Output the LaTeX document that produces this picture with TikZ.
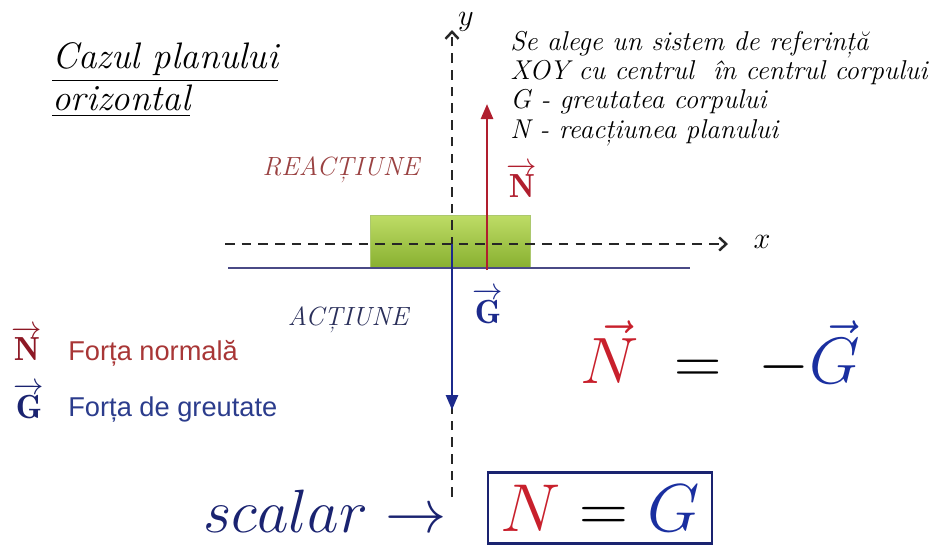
\documentclass[tikz,border=0pt]{standalone}
\usepackage{fontspec}
\usepackage{amsmath}
\usetikzlibrary{arrows.meta,positioning,calc}
\newfontfamily\legendfont{Liberation Sans}
\definecolor{ForceRed}{HTML}{B01E2E}
\definecolor{ForceBlue}{HTML}{1C2A8C}
\definecolor{EqRed}{HTML}{C8202C}
\definecolor{EqBlue}{HTML}{1A2FA0}
\definecolor{Navy}{HTML}{1A2370}
\definecolor{ReactText}{HTML}{9A4242}
\definecolor{ActText}{HTML}{2A2F5A}
\definecolor{Ground}{HTML}{4A4A86}
\definecolor{GreenTop}{HTML}{BEDC66}
\definecolor{GreenBot}{HTML}{88B030}
\definecolor{LegRed}{HTML}{A83636}
\definecolor{LegBlue}{HTML}{2B3C8C}
\tikzset{
  axis/.style={line width=1.4pt, dash pattern=on 5.5pt off 4pt, draw=black!85, -{Straight Barb[length=1.4mm,width=2.6mm]}},
  force/.style={line width=1.5pt, -{Triangle[length=3mm,width=2.4mm]}},
  block/.style={draw=GreenBot!70, top color=GreenTop, bottom color=GreenBot, minimum width=3.2cm, minimum height=1.06cm, inner sep=0pt},
  note/.style={font=\fontsize{15.5}{16.6}\selectfont\itshape, align=left, inner sep=0pt},
  tag/.style={font=\fontsize{15}{17}\selectfont\itshape, inner sep=0pt},
  vlabel/.style={font=\fontsize{19}{22}\selectfont, inner sep=0pt},
  legend/.style={font=\fontsize{15.5}{17}\selectfont\legendfont, anchor=west, inner sep=0pt},
  bigmath/.style={font=\fontsize{24.88}{30}\selectfont, inner sep=0pt}
}
\begin{document}
\begin{tikzpicture}[x=0.02cm,y=-0.02cm]
\useasboundingbox (0,0) rectangle (935,545);
% title
\node[anchor=north west, align=left, inner sep=0pt, font=\fontsize{21}{20}\selectfont\itshape] (title) at (52,42)
  {\underline{Cazul planului}\\\underline{orizontal}};
% reference system text
\node[note, anchor=north west] (info) at (510,31)
  {Se alege un sistem de referință\\XOY cu centrul \ în centrul corpului\\G - greutatea corpului\\N - reacțiunea planului};
% body and plane
\node[block] (body) at (450,241.5) {};
\coordinate (g1) at (228,268);
\coordinate (g2) at (690,268);
\draw[Ground, line width=1.5pt] (g1) -- (g2);
% axes
\coordinate (O) at (452,244);
\coordinate (xbase) at (225,244);
\coordinate (xtip) at (728,244);
\coordinate (ybase) at (452,497);
\coordinate (ytip) at (452,30);
\draw[axis] (xbase) -- (xtip);
\draw[axis] (ybase) -- (ytip);
\node[font=\fontsize{19}{20}\selectfont, inner sep=0pt] (xlab) at (762,242) {$x$};
\node[font=\fontsize{19}{20}\selectfont, inner sep=0pt] (ylab) at (466,22) {$y$};
% forces
\coordinate (nfoot) at (487,270);
\coordinate (ntip) at (487,104);
\coordinate (gtip) at (452,410);
\draw[force, ForceRed] (nfoot) -- (ntip);
\draw[force, ForceBlue] (O) -- (gtip);
\node[vlabel, text=ForceRed] (nlab) at (522,180) {$\overrightarrow{\mathbf{N}}$};
\node[vlabel, text=ForceBlue] (glab) at (488,306) {$\overrightarrow{\mathbf{G}}$};
\node[tag, text=ReactText] (react) at (341,170) {REACȚIUNE};
\node[tag, text=ActText] (act) at (348,320) {ACȚIUNE};
% legend
\node[vlabel, text=ForceRed!80!black] (legn) at (27,343) {$\overrightarrow{\mathbf{N}}$};
\node[vlabel, text=Navy] (legg) at (29,401) {$\overrightarrow{\mathbf{G}}$};
\node[legend, text=LegRed] (legntxt) at (68,353) {Forța normală};
\node[legend, text=LegBlue] (leggtxt) at (68,410) {Forța de greutate};
% vector relation
\node[bigmath] (vecrel) at (720,355)
  {\scalebox{1.5}{$\color{EqRed}\vec{N}\color{black}\;=\;-\color{EqBlue}\vec{G}$}};
% scalar relation
\node[bigmath, text=Navy, anchor=base west] (scal) at (203,532)
  {\scalebox{1.4}{$scalar\rightarrow$}};
\node[bigmath, draw=Navy, line width=1.2pt, minimum width=4.48cm, minimum height=1.42cm] (result) at (600,508)
  {\scalebox{1.55}{$\color{EqRed}N\color{black}=\color{EqBlue}G$}};
\end{tikzpicture}
\end{document}
